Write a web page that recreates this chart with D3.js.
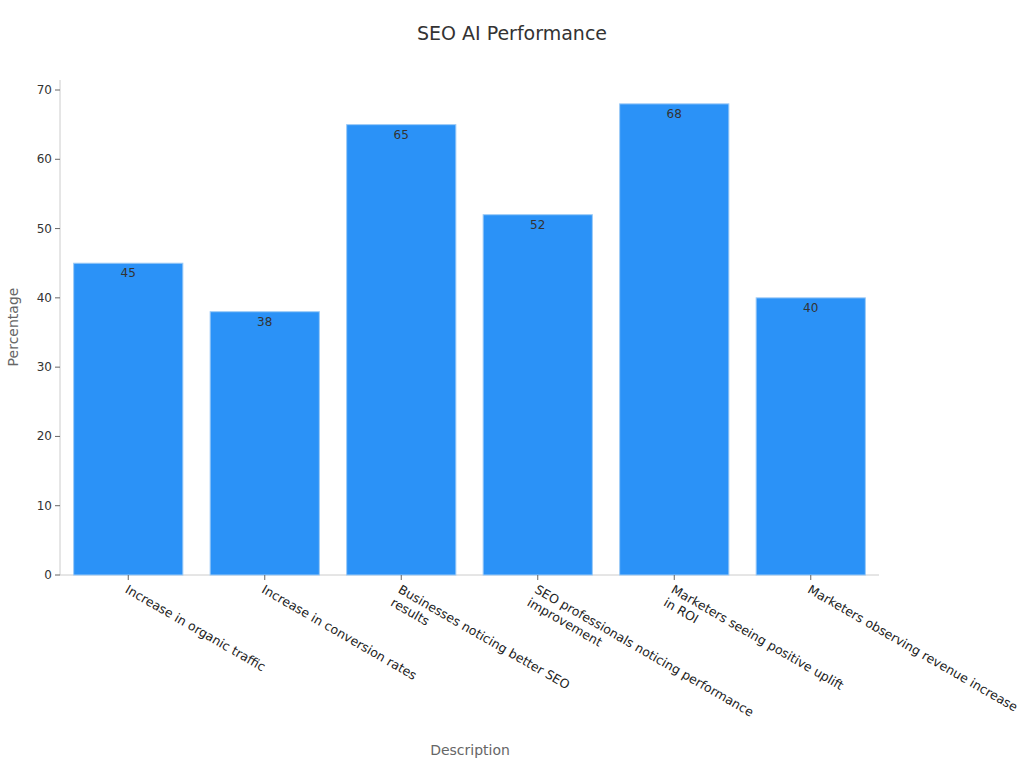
<!DOCTYPE html>
<html><head><meta charset="utf-8">
<script src="https://cdn.jsdelivr.net/npm/d3@7"></script>
<style>body{margin:0;background:#fff;font-family:"DejaVu Sans",sans-serif}</style>
</head><body><svg id="c" width="1024" height="768"></svg>
<script>
const categories = [
  ["Increase in organic traffic"],
  ["Increase in conversion rates"],
  ["Businesses noticing better SEO","results"],
  ["SEO professionals noticing performance","improvement"],
  ["Marketers seeing positive uplift","in ROI"],
  ["Marketers observing revenue increase"]
];
const values = [45, 38, 65, 52, 68, 40];
const yTicks = [0,10,20,30,40,50,60,70];

const svg = d3.select("#c");
const x = d3.scaleBand().domain(d3.range(categories.length)).range([60, 879]).paddingInner(0.2).paddingOuter(0.1);
const y = d3.scaleLinear().domain([0, 70]).range([575, 90]);

svg.append("text").attr("x", 512).attr("y", 40).attr("text-anchor","middle")
  .attr("font-size", 19).attr("fill","#333").text("SEO AI Performance");

// axes
svg.append("line").attr("x1",60).attr("x2",60).attr("y1",80).attr("y2",575).attr("stroke","#ccc");
svg.append("line").attr("x1",60).attr("x2",879).attr("y1",575).attr("y2",575).attr("stroke","#ccc");
const yt = svg.selectAll(".yt").data(yTicks).enter().append("g");
yt.append("line").attr("x1",55).attr("x2",60).attr("y1",d=>y(d)).attr("y2",d=>y(d)).attr("stroke","#666");
yt.append("text").attr("x",52).attr("y",d=>y(d)+4).attr("text-anchor","end").attr("font-size",12).attr("fill","#333").text(d=>d);

svg.selectAll(".bar").data(values).enter().append("rect")
  .attr("x",(d,i)=>x(i)).attr("width",x.bandwidth())
  .attr("y",d=>y(d)).attr("height",d=>575-y(d))
  .attr("fill","#2b92f7").attr("stroke","#9ccaf6").attr("stroke-width",1);
svg.selectAll(".vl").data(values).enter().append("text")
  .attr("x",(d,i)=>x(i)+x.bandwidth()/2).attr("y",d=>y(d)+14)
  .attr("text-anchor","middle").attr("font-size",12).attr("fill","#333").text(d=>d);

const xt = svg.selectAll(".xt").data(categories).enter().append("g");
xt.append("line").attr("x1",(d,i)=>x(i)+x.bandwidth()/2).attr("x2",(d,i)=>x(i)+x.bandwidth()/2)
  .attr("y1",575).attr("y2",580).attr("stroke","#666");
xt.append("text")
  .attr("transform",(d,i)=>`translate(${x(i)+x.bandwidth()/2-4},${592}) rotate(30)`)
  .attr("font-size",12.5).attr("fill","#222")
  .selectAll("tspan").data(d=>d).enter().append("tspan")
  .attr("x",0).attr("dy",(d,j)=>j===0?0:15).text(d=>d);

svg.append("text").attr("x",470).attr("y",755).attr("text-anchor","middle").attr("font-size",14).attr("fill","#666").text("Description");
svg.append("text").attr("transform","translate(18,327) rotate(-90)").attr("text-anchor","middle").attr("font-size",14).attr("fill","#666").text("Percentage");
</script></body></html>
